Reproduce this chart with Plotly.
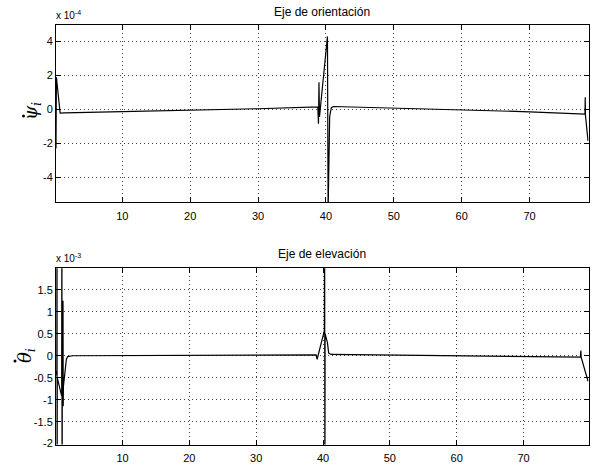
import plotly.graph_objects as go

# ---- data (psi dot in units of 1e-4, theta dot in units of 1e-3) ----
psi_t = [0.24, 0.30, 0.85, 1.5, 10, 20, 30, 38.8, 38.9, 38.97, 39.05,
         40.22, 40.32, 40.55, 40.8, 41.1, 50, 60, 70, 78.15, 78.19, 78.22, 78.6]
psi_v = [-2.3, 1.9, -0.22, -0.21, -0.13, -0.05, 0.04, 0.15, -0.85, 1.6, -0.45,
         4.3, -6.0, -0.4, 0.1, 0.17, 0.08, -0.02, -0.14, -0.28, 0.72, -0.33, -1.85]

theta_t = [0.05, 0.18, 0.20, 0.22, 0.24, 0.90, 0.93, 0.96, 0.99, 1.08, 1.10, 1.13,
           1.16, 1.6, 1.8, 2.5, 20, 38.95, 39.12, 40.2, 40.24, 40.28, 40.31,
           40.66, 40.85, 41.2, 60, 78.5, 78.58, 78.62, 79.65]
theta_v = [-0.35, -0.45, 4.0, -4.0, -0.5, -0.92, 4.0, -4.0, -0.95, -0.8, 1.25, -1.15,
           -0.7, -0.08, -0.02, 0.0, 0.01, 0.02, -0.08, 0.57, 4.0, -4.0, 0.5,
           0.3, 0.06, 0.03, 0.0, -0.03, 0.12, -0.03, -0.58]

x_ticks = [10, 20, 30, 40, 50, 60, 70]
psi_ticks = [-4, -2, 0, 2, 4]
theta_ticks = [-2, -1.5, -1, -0.5, 0, 0.5, 1, 1.5]

W, H = 596, 466
def px(x): return x / W
def py(y): return 1 - y / H

fig = go.Figure()
fig.add_trace(go.Scatter(x=psi_t, y=psi_v, mode="lines",
                         line=dict(color="black", width=1.2), xaxis="x", yaxis="y"))
fig.add_trace(go.Scatter(x=theta_t, y=theta_v, mode="lines",
                         line=dict(color="black", width=1.2), xaxis="x2", yaxis="y2"))

font = dict(family="Liberation Sans, Arial, sans-serif", size=11, color="black")
ax_common = dict(showline=True, linecolor="black", linewidth=1, mirror="ticks",
                 ticks="inside", ticklen=5, tickcolor="black", tickwidth=1,
                 showgrid=True, gridcolor="rgba(0,0,0,0.75)", griddash="1px,3px", gridwidth=1,
                 zeroline=False, tickfont=font, automargin=False, layer="above traces")

fig.update_layout(
    template="none",
    width=W, height=H, margin=dict(l=0, r=0, t=0, b=0, pad=0),
    paper_bgcolor="white", plot_bgcolor="white", showlegend=False,
    xaxis=dict(domain=[px(56), px(588.7)], range=[0.24, 78.7], tickvals=x_ticks,
               anchor="y", ticklabelstandoff=3, **ax_common),
    yaxis=dict(domain=[py(202.3), py(25)], range=[-5.47, 4.97], tickvals=psi_ticks,
               ticktext=[str(v) for v in psi_ticks], anchor="x", **ax_common),
    xaxis2=dict(domain=[px(56), px(588.7)], range=[0.05, 79.75], tickvals=x_ticks,
                anchor="y2", ticklabelstandoff=3, **ax_common),
    yaxis2=dict(domain=[py(444.5), py(268.3)], range=[-2.02, 1.99], tickvals=theta_ticks,
                ticktext=[f"{v:g}" for v in theta_ticks], anchor="x2", **ax_common),
)

title_font = dict(family=font["family"], size=12, color="black")
ann = []
ann.append(dict(text="Eje de orientación", x=px(322), y=py(12), xref="paper", yref="paper",
                showarrow=False, font=title_font, xanchor="center", yanchor="middle"))
ann.append(dict(text="Eje de elevación", x=px(322), y=py(254), xref="paper", yref="paper",
                showarrow=False, font=title_font, xanchor="center", yanchor="middle"))
ann.append(dict(text="x 10<sup>-4</sup>", x=px(54), y=py(23), xref="paper", yref="paper",
                showarrow=False, font=dict(family=font["family"], size=10, color="black"),
                xanchor="left", yanchor="bottom"))
ann.append(dict(text="x 10<sup>-3</sup>", x=px(54), y=py(266), xref="paper", yref="paper",
                showarrow=False, font=dict(family=font["family"], size=10, color="black"),
                xanchor="left", yanchor="bottom"))
serif = dict(family="DejaVu Serif, Liberation Serif, serif", size=18, color="black")
ann.append(dict(text="<i>ψ<sub>i</sub></i>", x=px(32), y=py(111), xref="paper", yref="paper",
                showarrow=False, font=serif, textangle=-90, xanchor="center", yanchor="middle"))
ann.append(dict(text="<i>θ<sub>i</sub></i>", x=px(26), y=py(356), xref="paper", yref="paper",
                showarrow=False, font=serif, textangle=-90, xanchor="center", yanchor="middle"))
fig.update_layout(annotations=ann)

# the over-dots of the rotated labels
for cx, cy in [(23.5, 116), (15.0, 361)]:
    fig.add_shape(type="circle", xref="paper", yref="paper",
                  x0=px(cx - 1.5), x1=px(cx + 1.5), y0=py(cy + 1.5), y1=py(cy - 1.5),
                  fillcolor="black", line=dict(width=0), layer="above")

fig.write_html("out.html", config={"displayModeBar": False},
               post_script="document.body.style.margin='0';")
